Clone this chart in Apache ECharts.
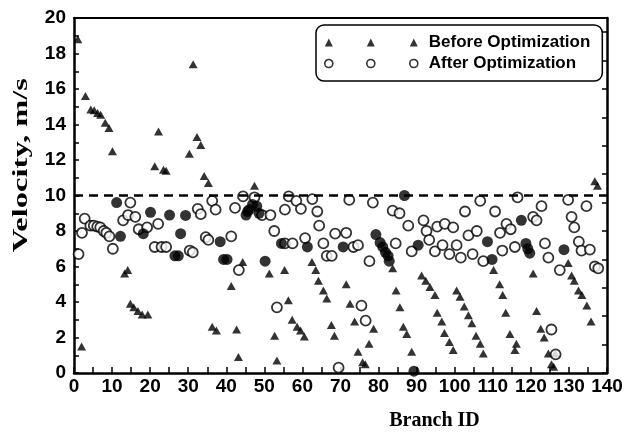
<!DOCTYPE html>
<html><head><meta charset="utf-8">
<script src="https://cdn.jsdelivr.net/npm/echarts@6/dist/echarts.min.js"></script>
<style>html,body{margin:0;padding:0;background:#fff}#c{width:631px;height:434px}</style>
</head><body><div id="c"></div>
<script>
// [branch ID, velocity m/s]
const beforeOptimization = [
  [1,18.8],[2,1.5],[3,15.6],[4.4,14.85],[5.3,14.8],[6.2,14.65],[7,14.55],[8.2,14.1],[9.2,13.8],[10.1,12.5],
  [13.3,5.6],[14.1,5.8],[14.8,3.9],[15.7,3.7],[16.8,3.5],[17.9,3.3],[19.4,3.3],
  [21.2,11.65],[22.2,13.6],[23.5,11.45],[24.2,11.4],[30.3,12.35],[31.3,17.4],[32.3,13.3],[33.3,12.85],[34.2,11.1],[35.3,10.7],
  [36.3,2.6],[37.4,2.4],[41.3,4.9],[42.7,2.45],[43.2,0.9],[44.3,6.25],[47.4,10.55],
  [51.3,5.6],[52.7,2.1],[53.3,0.7],[55.3,5.8],[56.3,4.1],[57.3,3.0],[58.6,2.6],[59.5,2.4],[60.5,2.05],
  [62.5,6.25],[63.5,5.8],[64.2,5.2],[65.5,4.65],[66.4,4.2],[67.6,2.7],[68.4,2.1],[71.5,5.0],[72.5,3.9],
  [73.7,2.9],[74.6,1.2],[75.8,0.6],[76.5,0.5],[77.5,1.65],[78.7,2.5],
  [83.7,5.9],[84.6,4.65],[85.6,3.7],[86.5,2.6],[87.4,2.2],[88.7,1.2],
  [91.3,5.5],[92.4,5.2],[93.5,4.85],[94.8,4.4],[95.4,3.4],[96.6,2.9],[97.3,2.25],[98.6,1.75],[99.6,1.3],
  [100.5,4.65],[101.4,4.3],[102.5,3.75],[103.6,3.25],[104.5,2.8],[105.6,2.1],[106.7,1.65],[107.5,1.1],
  [110.2,5.8],[111.8,5.0],[112.6,4.4],[113.4,3.4],[114.5,2.2],[116.2,1.65],[115.8,1.3],
  [120.6,5.6],[121.5,3.5],[122.6,2.5],[123.5,2.0],[124.6,1.1],[125.4,0.5],[126,0.35],[126.4,1.1],
  [129.8,6.2],[130.7,5.5],[131.4,5.2],[132.5,4.65],[133.4,4.4],[134.7,3.8],[135.8,2.9],[136.8,10.8],[137.5,10.55]
];
const afterOptimizationOpen = [
  [1.2,6.7],[2.1,7.9],[2.8,8.7],[4.3,8.3],[5.2,8.3],[6.1,8.25],[6.9,8.2],[7.8,8.0],[8.5,7.9],[9.3,7.7],[10.2,7.0],
  [12.9,8.6],[14.2,8.9],[14.8,9.6],[16.1,8.8],[17,8.1],[19.2,8.2],[22.1,8.4],[21.2,7.1],[23,7.1],[24.2,7.1],
  [30.4,6.9],[31.2,6.8],[32.5,9.25],[33.3,8.95],[34.6,7.65],[35.3,7.5],[36.3,9.7],[37.2,9.2],[41.3,7.7],[42.3,9.3],
  [43.3,5.8],[44.4,9.95],[47.4,9.9],[49.4,8.9],[51.6,8.9],[52.6,8.0],[53.3,3.7],[55.4,9.2],[56.4,9.95],
  [55.4,7.3],[57.4,7.3],[58.4,9.7],[59.6,9.25],[60.7,7.6],[62.6,9.8],[63.9,9.1],[64.4,8.3],[65.5,7.3],
  [66.4,6.6],[67.7,6.6],[68.6,7.85],[69.5,0.3],[71.5,7.9],[72.3,9.75],[73.4,7.1],[74.6,7.2],[75.5,3.8],[76.6,2.95],
  [77.6,6.3],[78.5,9.6],[83.7,9.15],[84.5,7.3],[85.5,9.0],[87.8,8.3],[88.7,6.85],[91.8,8.6],[92.6,8.0],
  [93.3,7.5],[94.8,6.85],[95.4,8.25],[96.8,7.2],[97.4,8.4],[98.6,6.7],[99.6,8.2],[100.5,7.2],[101.6,6.5],
  [102.7,9.1],[103.6,7.75],[104.7,6.7],[105.8,8.0],[106.7,9.7],[107.5,6.3],[110.6,9.1],[111.9,7.9],[112.5,6.9],
  [113.6,8.4],[114.7,8.1],[115.8,7.1],[116.5,9.9],[120.6,8.8],[121.5,8.6],[122.8,9.4],[123.7,7.3],[124.6,6.5],
  [125.4,2.45],[126.5,1.05],[127.6,5.8],[129.8,9.75],[130.7,8.8],[131.4,8.2],[132.6,7.4],[133.3,6.9],
  [134.6,9.4],[135.5,6.95],[136.8,6.0],[137.7,5.9]
];
const afterOptimizationFilled = [
  [11.2,9.6],[12.2,7.7],[18.2,7.85],[20.1,9.05],[25.1,8.9],[26.5,6.6],[27.4,6.6],[28,7.85],[29.3,8.88],
  [38.4,7.4],[39.3,6.4],[40.2,6.4],[45.2,8.9],[45.6,9.1],[46,9.2],[46.9,9.5],[48,9.4],[48.6,9.0],
  [50.2,6.3],[54.5,7.3],[61.3,7.1],[70.7,7.1],[79.3,7.8],[80.4,7.35],[81.1,7.1],[81.8,6.8],[82.5,6.6],[82.8,6.3],
  [86.8,10],[89.3,0.1],[90.4,7.2],[108.6,7.4],[109.8,6.4],[117.5,8.6],[118.7,7.3],[119.2,7.0],[119.7,6.75],[128.7,6.95]
];
const maxVelocity = 10;
const xTickLabels = ['0','10','20','30','40','50','60','70','80','90','100','110','120','130','140'];
const yTickLabels = ['0','2','4','6','8','10','12','14','16','18','20'];
const yAxisTitle = 'Velocity, m/s';
const xAxisTitle = 'Branch ID';

const tickFont = {fontFamily:'Liberation Sans, Arial, sans-serif', fontWeight:'bold', fontSize:19, color:'#000'};
const triPath = 'path://M0,8L4,0L8,8Z M42,8L46,0L50,8Z M85,8L89,0L93,8Z';
const cirPath = 'path://M0,4A4,4 0 1,0 8,4A4,4 0 1,0 0,4Z M42,4A4,4 0 1,0 50,4A4,4 0 1,0 42,4Z M85,4A4,4 0 1,0 93,4A4,4 0 1,0 85,4Z';

const chart = echarts.init(document.getElementById('c'), null, {renderer:'canvas'});
chart.setOption({
  backgroundColor:'#fff',
  animation:false,
  grid:{left:74, right:24, top:18, bottom:61, containLabel:false, outerBoundsMode:'none'},
  legend:{
    left:316, top:25, orient:'vertical',
    itemWidth:93, itemHeight:8, itemGap:4,
    padding:[9,12,9,8],
    borderColor:'#000', borderWidth:1.5, borderRadius:8,
    textStyle:{fontFamily:'Liberation Sans, Arial, sans-serif', fontWeight:'bold', fontSize:17, color:'#000', padding:[0,0,0,6]},
    data:[
      {name:'Before Optimization', icon:triPath, itemStyle:{color:'#000'}},
      {name:'After Optimization', icon:cirPath, itemStyle:{color:'#fff', borderColor:'#000', borderWidth:1.6}}
    ]
  },
  graphic:[{
    type:'text', left:11, top:78, z:10,
    rotation:Math.PI/2, scaleX:1.55, scaleY:1, originX:0, originY:0,
    style:{text:yAxisTitle, font:'bold 21px "Liberation Serif", "Times New Roman", serif', fill:'#000'}
  }],
  xAxis:[{
    type:'value', min:0, max:140, interval:5,
    name:xAxisTitle, nameLocation:'middle', nameGap:38,
    nameTextStyle:{fontFamily:'Liberation Serif, Times New Roman, serif', fontWeight:'bold', fontSize:20, color:'#000', padding:[0,0,0,188]},
    axisLine:{show:true, onZero:false, lineStyle:{color:'#000', width:2.5}},
    axisTick:{show:true, inside:true, length:6, lineStyle:{color:'#000', width:1.5}},
    axisLabel:{...tickFont, margin:4, formatter:v => (v % 10 === 0 ? xTickLabels[v/10] : '')},
    splitLine:{show:false}
  },{
    type:'value', min:0, max:140, position:'top',
    axisLine:{show:true, onZero:false, lineStyle:{color:'#000', width:2}},
    axisTick:{show:false}, axisLabel:{show:false}, splitLine:{show:false}
  }],
  yAxis:[{
    type:'value', min:0, max:20, interval:1,
    axisLine:{show:true, onZero:false, lineStyle:{color:'#000', width:2.5}},
    axisTick:{show:true, inside:true, length:5, lineStyle:{color:'#000', width:1.5}},
    axisLabel:{...tickFont, margin:8, formatter:v => (v % 2 === 0 ? yTickLabels[v/2] : '')},
    splitLine:{show:false}
  },{
    type:'value', min:0, max:20, interval:1.6, position:'right',
    axisLine:{show:true, onZero:false, lineStyle:{color:'#000', width:2.5}},
    axisTick:{show:true, inside:true, length:5, lineStyle:{color:'#000', width:1.5}},
    axisLabel:{show:false}, splitLine:{show:false}
  }],
  series:[{
    name:'Before Optimization', type:'scatter', symbol:'triangle', symbolSize:[9,8],
    itemStyle:{color:'#000'}, data:beforeOptimization,
    markLine:{
      silent:true, symbol:['none','none'],
      lineStyle:{color:'#000', type:[9,6], width:2.5},
      label:{show:false},
      data:[{yAxis:maxVelocity}]
    },
    markPoint:{
      symbol:'none', symbolSize:0,
      label:{show:true, position:'inside', formatter:'Maximum Velocity', fontFamily:'Liberation Sans, Arial, sans-serif', fontWeight:'bold', fontSize:14, color:'#000'},
      data:[{coord:[84.7, maxVelocity + 0.95]}]
    }
  },{
    name:'After Optimization', type:'scatter', symbol:'circle', symbolSize:10,
    itemStyle:{color:'#fff', borderColor:'#000', borderWidth:1.8}, data:afterOptimizationOpen
  },{
    name:'After Optimization (filled)', type:'scatter', symbol:'circle', symbolSize:11,
    itemStyle:{color:'#000'}, data:afterOptimizationFilled
  }]
});
</script></body></html>
